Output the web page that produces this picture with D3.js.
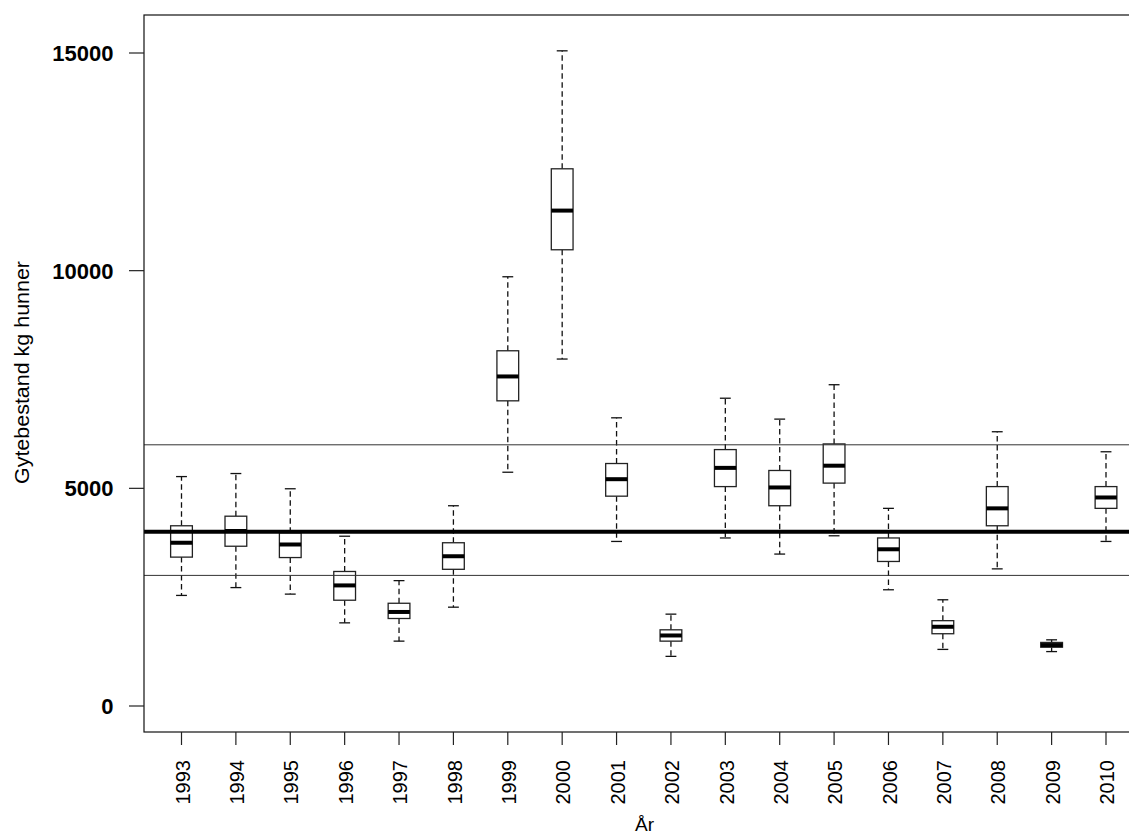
<!DOCTYPE html>
<html>
<head>
<meta charset="utf-8">
<script src="https://cdn.jsdelivr.net/npm/d3@7"></script>
<style>
  html, body { margin: 0; padding: 0; background: #fff; }
  svg { display: block; }
</style>
</head>
<body>
<svg id="chart" width="1129" height="837"></svg>
<script>
// ---- data ----
const years       = ["1993","1994","1995","1996","1997","1998","1999","2000","2001","2002","2003","2004","2005","2006","2007","2008","2009","2010"];
const whiskerLow  = [2540, 2720, 2570, 1910, 1490, 2270, 5370, 7970, 3780, 1140, 3860, 3490, 3910, 2670, 1300, 3150, 1250, 3780];
const q1          = [3420, 3670, 3410, 2430, 2010, 3140, 7010, 10480, 4820, 1490, 5040, 4600, 5120, 3320, 1660, 4140, 1350, 4540];
const medians     = [3750, 4020, 3710, 2770, 2160, 3440, 7570, 11380, 5210, 1620, 5470, 5020, 5520, 3600, 1820, 4540, 1400, 4790];
const q3          = [4140, 4360, 3980, 3090, 2360, 3750, 8160, 12340, 5570, 1750, 5890, 5410, 6020, 3860, 1960, 5040, 1460, 5040];
const whiskerHigh = [5270, 5340, 4990, 3900, 2880, 4600, 9860, 15050, 6620, 2110, 7070, 6590, 7380, 4540, 2440, 6300, 1520, 5840];
const yTicks      = [0, 5000, 10000, 15000];
const refLines    = [3000, 4000, 6000];
const refWidths   = [1, 4, 1];
const yTitle = "Gytebestand kg hunner";
const xTitle = "År";

// ---- layout ----
const svg = d3.select("#chart");
const plot = { left: 144, top: 15, bottom: 732, right: 1143 };

const x = d3.scaleLinear().domain([1, years.length]).range([181.5, 1106]);
const y = d3.scaleLinear().domain([0, 15000]).range([706, 53]);
const unit = x(2) - x(1);
const boxW = unit * 0.4;
const capW = boxW / 2;

const data = years.map((yr, i) => ({
  yr, pos: i + 1, lo: whiskerLow[i], q1: q1[i], med: medians[i], q3: q3[i], hi: whiskerHigh[i]
}));

// boxes
const g = svg.append("g");
const boxes = g.selectAll("g.box").data(data).join("g").attr("class", "box");

// whiskers (dashed)
boxes.append("line")
  .attr("x1", d => x(d.pos)).attr("x2", d => x(d.pos))
  .attr("y1", d => y(d.q3)).attr("y2", d => y(d.hi))
  .attr("stroke", "#111").attr("stroke-width", 1.3).attr("stroke-dasharray", "5.5,3.5");
boxes.append("line")
  .attr("x1", d => x(d.pos)).attr("x2", d => x(d.pos))
  .attr("y1", d => y(d.q1)).attr("y2", d => y(d.lo))
  .attr("stroke", "#111").attr("stroke-width", 1.3).attr("stroke-dasharray", "5.5,3.5");
// staples
boxes.append("line")
  .attr("x1", d => x(d.pos) - capW / 2).attr("x2", d => x(d.pos) + capW / 2)
  .attr("y1", d => y(d.hi)).attr("y2", d => y(d.hi))
  .attr("stroke", "#111").attr("stroke-width", 1.3);
boxes.append("line")
  .attr("x1", d => x(d.pos) - capW / 2).attr("x2", d => x(d.pos) + capW / 2)
  .attr("y1", d => y(d.lo)).attr("y2", d => y(d.lo))
  .attr("stroke", "#111").attr("stroke-width", 1.3);
// box
boxes.append("rect")
  .attr("x", d => x(d.pos) - boxW / 2)
  .attr("width", boxW)
  .attr("y", d => y(d.q3))
  .attr("height", d => y(d.q1) - y(d.q3))
  .attr("fill", "#fff").attr("stroke", "#222").attr("stroke-width", 1.3);
// median
boxes.append("line")
  .attr("x1", d => x(d.pos) - boxW / 2).attr("x2", d => x(d.pos) + boxW / 2)
  .attr("y1", d => y(d.med)).attr("y2", d => y(d.med))
  .attr("stroke", "#000").attr("stroke-width", 4);

// reference lines (drawn over the boxes)
svg.append("g").selectAll("line").data(refLines).join("line")
  .attr("x1", plot.left).attr("x2", plot.right)
  .attr("y1", d => y(d)).attr("y2", d => y(d))
  .attr("stroke", (d, i) => refWidths[i] > 1 ? "#000" : "#333")
  .attr("stroke-width", (d, i) => refWidths[i]);

// frame
svg.append("rect")
  .attr("x", plot.left).attr("y", plot.top)
  .attr("width", plot.right - plot.left).attr("height", plot.bottom - plot.top)
  .attr("fill", "none").attr("stroke", "#111").attr("stroke-width", 1.2);

// y axis
const yAxis = svg.append("g");
yAxis.selectAll("line").data(yTicks).join("line")
  .attr("x1", plot.left - 15).attr("x2", plot.left)
  .attr("y1", d => y(d)).attr("y2", d => y(d))
  .attr("stroke", "#222").attr("stroke-width", 1.2);
yAxis.selectAll("text").data(yTicks).join("text")
  .attr("x", 113.5).attr("y", d => y(d))
  .attr("dy", "0.36em")
  .attr("text-anchor", "end")
  .attr("font-family", "'Liberation Sans', Arial, sans-serif")
  .attr("font-weight", "bold")
  .attr("font-size", 22)
  .attr("fill", "#000")
  .text(d => d);

// x axis
const xAxis = svg.append("g");
xAxis.selectAll("line").data(data).join("line")
  .attr("x1", d => x(d.pos)).attr("x2", d => x(d.pos))
  .attr("y1", plot.bottom).attr("y2", plot.bottom + 13)
  .attr("stroke", "#222").attr("stroke-width", 1.2);
xAxis.selectAll("text").data(data).join("text")
  .attr("transform", d => `translate(${x(d.pos) + 1},760) rotate(-90)`)
  .attr("dy", "0.36em")
  .attr("text-anchor", "end")
  .attr("font-family", "'Liberation Sans', Arial, sans-serif")
  .attr("font-size", 20)
  .attr("fill", "#000")
  .text(d => d.yr);

// axis titles
svg.append("text")
  .attr("transform", `translate(22,${(plot.top + plot.bottom) / 2 - 1}) rotate(-90)`)
  .attr("dy", "0.36em")
  .attr("text-anchor", "middle")
  .attr("font-family", "'Liberation Sans', Arial, sans-serif")
  .attr("font-size", 20)
  .attr("textLength", 223)
  .attr("lengthAdjust", "spacingAndGlyphs")
  .attr("fill", "#000")
  .text(yTitle);

svg.append("text")
  .attr("x", (plot.left + plot.right) / 2 + 1)
  .attr("y", 831)
  .attr("text-anchor", "middle")
  .attr("font-family", "'Liberation Sans', Arial, sans-serif")
  .attr("font-size", 19)
  .attr("fill", "#000")
  .text(xTitle);
</script>
</body>
</html>
